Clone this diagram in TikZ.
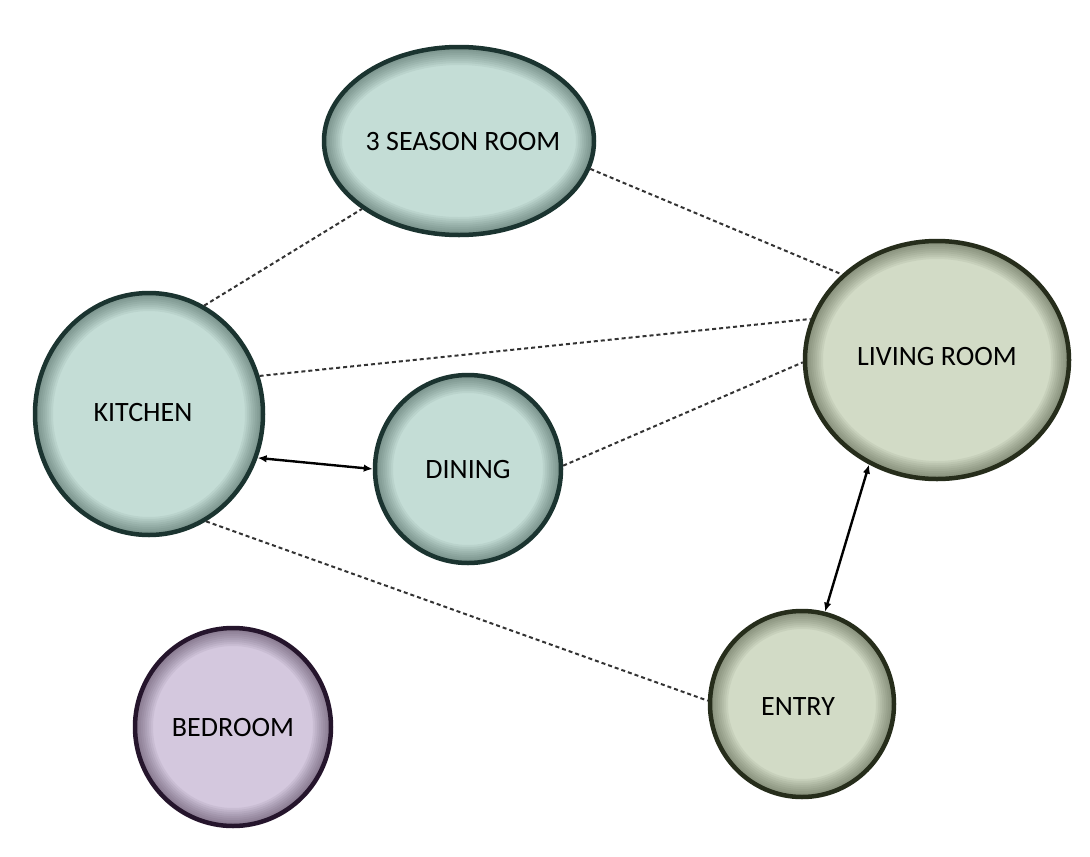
\documentclass[tikz,border=0pt]{standalone}
\usepackage{fontspec}
\setmainfont{Carlito}
\usetikzlibrary{shapes.geometric,arrows.meta}
\definecolor{tealfill}{HTML}{C4DDD6}
\definecolor{tealedge}{HTML}{1B3430}
\definecolor{olivefill}{HTML}{D2DBC6}
\definecolor{oliveedge}{HTML}{262D1B}
\definecolor{lilacfill}{HTML}{D4C8DE}
\definecolor{lilacedge}{HTML}{25152C}
\definecolor{dashgray}{HTML}{333333}
\tikzset{
  roomnode/.style={ellipse, line width=4.5pt, inner sep=0pt,
    font=\fontsize{28}{30}\selectfont, text=black},
  dotlink/.style={dashgray, line width=2pt, dash pattern=on 4pt off 3pt},
  solidlink/.style={black, line width=2.4pt, {Latex[length=9pt,width=7.5pt]}-{Latex[length=9pt,width=7.5pt]}},
}
\newcommand\shiftedtext[3]{\smash{\makebox[0pt]{\raisebox{\dimexpr#2-9pt\relax}{\hspace*{#1}#3}}}}
\newcommand\roomglow[5]{% x, y, rx, ry, edgecolor
  \begin{scope}
    \clip (#1,#2) ellipse [x radius=#3, y radius=#4];
    \foreach \w in {36,32,...,4}
      \draw[#5, line width=\w pt, opacity=0.06] (#1,#2) ellipse [x radius=#3, y radius=#4];
  \end{scope}
}
\newcommand\room[8]{% name, x, y, rx, ry, fill, edge, text
  \fill[#6] (#2,#3) ellipse [x radius=#4, y radius=#5];
  \roomglow{#2}{#3}{#4}{#5}{#7}
  \node[roomnode, draw=#7, minimum width=#4*2pt, minimum height=#5*2pt] (#1) at (#2,#3) {#8};
}
\begin{document}
\begin{tikzpicture}[x=1pt,y=-1pt]
\useasboundingbox[fill=white] (0,0) rectangle (1090,857);
\room{season}{459}{141}{135}{94}{tealfill}{tealedge}{\shiftedtext{8pt}{0pt}{3 SEASON ROOM}}
\room{kitchen}{149}{414}{114}{121}{tealfill}{tealedge}{\shiftedtext{-12pt}{2pt}{KITCHEN}}
\room{dining}{468}{469}{93}{94}{tealfill}{tealedge}{\shiftedtext{0pt}{0pt}{DINING}}
\room{living}{937}{360}{132}{119}{olivefill}{oliveedge}{\shiftedtext{0pt}{4pt}{LIVING ROOM}}
\room{entry}{802}{704}{92}{93}{olivefill}{oliveedge}{\shiftedtext{-8pt}{-2pt}{ENTRY}}
\room{bedroom}{233}{727}{98}{99}{lilacfill}{lilacedge}{\shiftedtext{0pt}{0pt}{BEDROOM}}

\draw[dotlink] (kitchen.63) -- (season.215.6);
\draw[dotlink] (season.348) -- (living.138.9);
\draw[dotlink] (kitchen.19.5) -- (living.162.2);
\draw[dotlink] (dining.2.3) -- (living.181.3);
\draw[dotlink] (kitchen.298.5) -- (entry.178.8);
\draw[solidlink] (kitchen.-22.4) -- (dining.180);
\draw[solidlink] (living.237.1) -- (entry.76.6);
\end{tikzpicture}
\end{document}
